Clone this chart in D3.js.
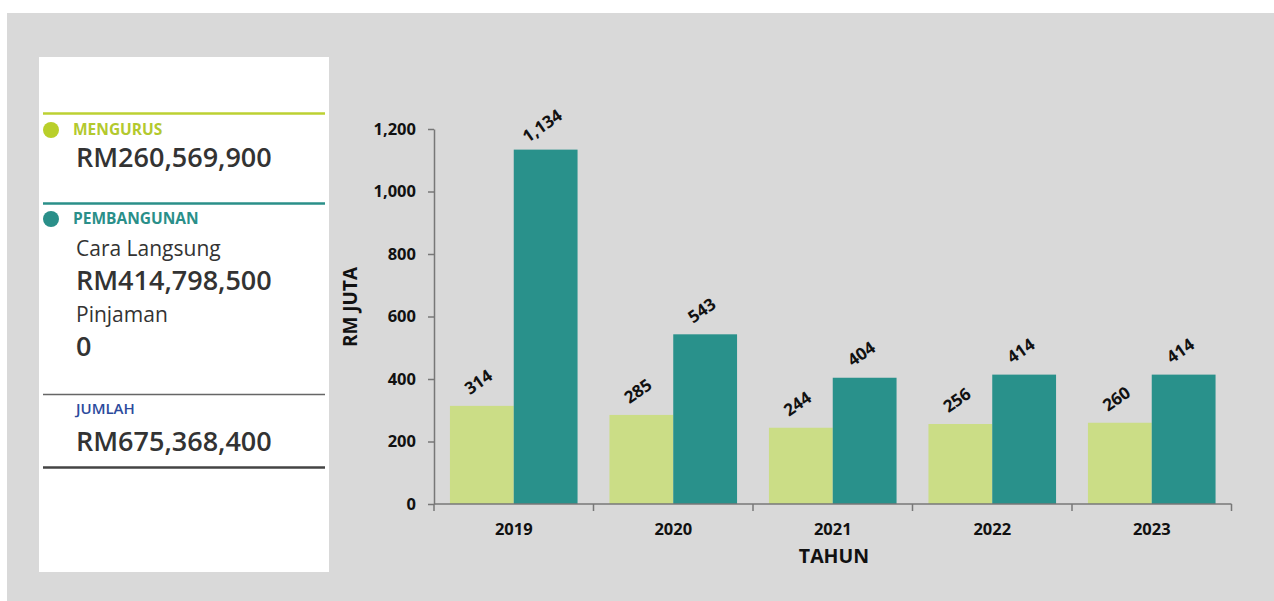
<!DOCTYPE html>
<html><head><meta charset="utf-8">
<script src="https://cdn.jsdelivr.net/npm/d3@7"></script>
<style>
html,body{margin:0;padding:0;background:#fff;}
svg{display:block;font-family:"Open Sans","Noto Sans",sans-serif;}
</style></head>
<body>
<svg id="c" width="1274" height="601"></svg>
<script>
const years = ["2019","2020","2021","2022","2023"];
const mengurus = [314, 285, 244, 256, 260];
const pembangunan = [1134, 543, 404, 414, 414];
const yTicks = [0, 200, 400, 600, 800, 1000, 1200];
const seriesNames = ["MENGURUS", "PEMBANGUNAN"];
const panelTexts = {
  mengurusTotal: "RM260,569,900",
  caraLangsungLabel: "Cara Langsung",
  caraLangsung: "RM414,798,500",
  pinjamanLabel: "Pinjaman",
  pinjaman: "0",
  jumlahLabel: "JUMLAH",
  jumlah: "RM675,368,400"
};

const svg = d3.select("#c");
svg.append("rect").attr("x",7).attr("y",13).attr("width",1267).attr("height",588).attr("fill","#d9d9d9");

// left panel
const p = svg.append("g");
p.append("rect").attr("x",39).attr("y",57).attr("width",290).attr("height",515).attr("fill","#fff");
p.append("line").attr("x1",43).attr("x2",325).attr("y1",113.5).attr("y2",113.5).attr("stroke","#bcd132").attr("stroke-width",2.5);
p.append("circle").attr("cx",51).attr("cy",130).attr("r",8).attr("fill","#b9cf2a");
p.append("text").attr("x",73).attr("y",135).text(seriesNames[0]).attr("fill","#b3c92e").attr("font-size",15.5).attr("font-weight",700);
p.append("text").attr("x",76).attr("y",167).text(panelTexts.mengurusTotal).attr("fill","#333").attr("font-size",27).attr("font-weight",600);

p.append("line").attr("x1",43).attr("x2",325).attr("y1",203.5).attr("y2",203.5).attr("stroke","#2a8f89").attr("stroke-width",2.5);
p.append("circle").attr("cx",51).attr("cy",219).attr("r",8).attr("fill","#2a8f89");
p.append("text").attr("x",73).attr("y",224).text(seriesNames[1]).attr("fill","#2a8f89").attr("font-size",15.5).attr("font-weight",700);
p.append("text").attr("x",76).attr("y",256).text(panelTexts.caraLangsungLabel).attr("fill","#333").attr("font-size",21).attr("font-weight",500);
p.append("text").attr("x",76).attr("y",290).text(panelTexts.caraLangsung).attr("fill","#333").attr("font-size",27).attr("font-weight",600);
p.append("text").attr("x",76).attr("y",322).text(panelTexts.pinjamanLabel).attr("fill","#333").attr("font-size",21).attr("font-weight",500);
p.append("text").attr("x",76).attr("y",356).text(panelTexts.pinjaman).attr("fill","#333").attr("font-size",27).attr("font-weight",600);

p.append("line").attr("x1",43).attr("x2",325).attr("y1",394.5).attr("y2",394.5).attr("stroke","#666").attr("stroke-width",1.5);
p.append("text").attr("x",76).attr("y",414).text(panelTexts.jumlahLabel).attr("fill","#2c4a9c").attr("font-size",15).attr("font-weight",600);
p.append("text").attr("x",76).attr("y",451).text(panelTexts.jumlah).attr("fill","#333").attr("font-size",27).attr("font-weight",600);
p.append("line").attr("x1",43).attr("x2",325).attr("y1",467.5).attr("y2",467.5).attr("stroke","#444").attr("stroke-width",2.5);

// chart
const x0 = d3.scaleBand().domain(years).range([434,1231.5]).paddingInner(0.2).paddingOuter(0.1);
const x1 = d3.scaleBand().domain([0,1]).range([0,x0.bandwidth()]);
const y = d3.scaleLinear().domain([0,1200]).range([504,129]);
const colors = ["#cbdd86","#29918b"];
const data = years.map((yr,i)=>({yr, vals:[mengurus[i], pembangunan[i]]}));

const g = svg.append("g");
const grp = g.selectAll("g.yr").data(data).join("g").attr("transform",d=>`translate(${x0(d.yr)},0)`);
grp.selectAll("rect").data(d=>d.vals).join("rect")
  .attr("x",(d,i)=>x1(i)).attr("width",x1.bandwidth())
  .attr("y",d=>y(d)).attr("height",d=>y(0)-y(d)).attr("fill",(d,i)=>colors[i]);
grp.selectAll("text").data(d=>d.vals).join("text")
  .attr("transform",(d,i)=>`translate(${x1(i)+x1.bandwidth()/2},${y(d)-19}) rotate(-35)`)
  .attr("text-anchor","middle").attr("font-size",17).attr("font-weight",700).attr("fill","#111")
  .text(d=>d3.format(",")(d));

// y axis
const ya = g.append("g").attr("transform","translate(434,0)")
  .call(d3.axisLeft(y).tickValues(yTicks).tickFormat(d3.format(",")).tickSize(6).tickSizeOuter(0));
ya.select(".domain").attr("stroke","#777").attr("stroke-width",1.5);
ya.selectAll(".tick line").attr("stroke","#777").attr("stroke-width",1.5);
ya.selectAll(".tick text").attr("font-size",16.5).attr("font-weight",700).attr("fill","#111").attr("x",-18).attr("font-family","Open Sans");

// x axis
const xa = g.append("g").attr("transform","translate(0,504)");
xa.append("line").attr("x1",434).attr("x2",1231.5).attr("stroke","#777").attr("stroke-width",1.5);
const bounds = years.map(d=>x0(d)-x0.step()*0.1).concat([1231.5]);
xa.selectAll("line.t").data(bounds).join("line").attr("class","t")
  .attr("x1",d=>d).attr("x2",d=>d).attr("y1",0).attr("y2",7).attr("stroke","#777").attr("stroke-width",1.5);
xa.selectAll("text").data(years).join("text")
  .attr("x",d=>x0(d)+x0.bandwidth()/2).attr("y",31).attr("text-anchor","middle")
  .attr("font-size",16.5).attr("font-weight",700).attr("fill","#111").text(d=>d);

g.append("text").attr("transform","translate(357,307) rotate(-90)").attr("text-anchor","middle")
  .attr("font-size",19).attr("font-weight",700).attr("fill","#111").text("RM JUTA");
g.append("text").attr("x",834).attr("y",563).attr("text-anchor","middle")
  .attr("font-size",19.5).attr("font-weight",700).attr("fill","#111").text("TAHUN");
</script>
</body></html>
